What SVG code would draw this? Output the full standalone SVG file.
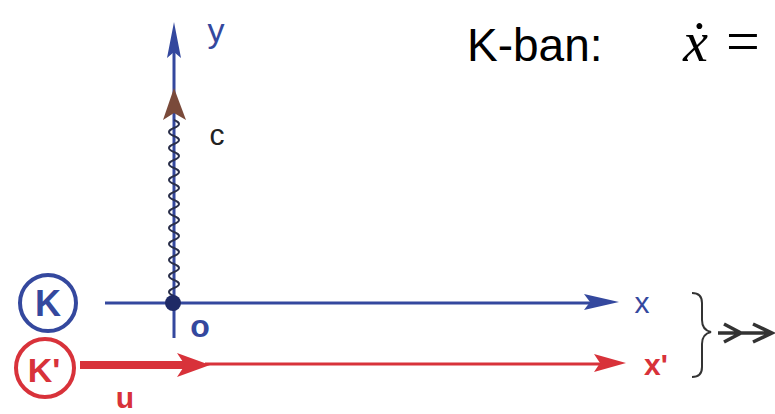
<svg xmlns="http://www.w3.org/2000/svg" width="775" height="414" viewBox="0 0 775 414">
<defs>
<style>
.blue{stroke:#34489e;fill:none}
.red{stroke:#d8323a;fill:none}
.hand{font-family:"Liberation Sans",Arial,sans-serif}
</style>
</defs>
<rect width="775" height="414" fill="#ffffff"/>
<g id="connectors">
  <!-- y axis -->
  <line class="blue" x1="174" y1="338" x2="174" y2="50" stroke-width="3"/>
  <polygon points="174,22 167,58 174,52 181,58" fill="#34489e"/>
  <!-- light ray -->
  <polygon points="174,88 163,120 174,113 186,120" fill="#7a4a3a"/>
  <path d="M174 120 q10 4 0 8 q-10 4 0 8 q10 4 0 8 q-10 4 0 8 q10 4 0 8 q-10 4 0 8 q10 4 0 8 q-10 4 0 8 q10 4 0 8 q-10 4 0 8 q10 4 0 8 q-10 4 0 8 q10 4 0 8 q-10 4 0 8 q10 4 0 8 q-10 4 0 8 q10 4 0 8 q-10 4 0 8 q10 4 0 8 q-10 4 0 8 q10 4 0 8 q-10 4 0 8" fill="none" stroke="#2a2f4a" stroke-width="2"/>
  <!-- x axis -->
  <line class="blue" x1="105" y1="303" x2="590" y2="303" stroke-width="3"/>
  <polygon points="619,302 584,294 590,302 584,310" fill="#34489e"/>
  <!-- x' axis -->
  <line class="red" x1="205" y1="364" x2="600" y2="364" stroke-width="3"/>
  <polygon points="626,363 594,354 600,363 594,372" fill="#d8323a"/>
  <!-- u arrow -->
  <line class="red" x1="80" y1="365" x2="195" y2="365" stroke-width="8"/>
  <polygon points="210,365 177,353 185,365 177,377" fill="#d8323a"/>
  <!-- brace -->
  <path d="M692 293 Q702 293 702 303 L702 320 Q702 330 711 332 Q702 334 702 344 L702 367 Q702 377 692 377" fill="none" stroke="#333" stroke-width="2"/>
  <!-- implies arrow -->
  <path d="M718 333 L770 333 M724 324 L741 333 L724 342 M753 324 L772 333 L753 342" fill="none" stroke="#333" stroke-width="3.5"/>
</g>
<g id="node-K">
  <circle cx="48" cy="303" r="28" class="blue" stroke-width="4"/>
  <text x="48" y="316" text-anchor="middle" class="hand" font-size="36" font-weight="bold" fill="#34489e">K</text>
</g>
<g id="node-Kprime">
  <circle cx="45" cy="368" r="29" class="red" stroke-width="4"/>
  <text x="44" y="382" text-anchor="middle" class="hand" font-size="34" font-weight="bold" fill="#d8323a">K'</text>
</g>
<g id="node-origin">
  <circle cx="173" cy="303" r="8" fill="#1f2a66"/>
  <text x="200" y="337" text-anchor="middle" class="hand" font-size="32" font-weight="bold" fill="#34489e">o</text>
</g>
<g id="labels">
  <text x="216" y="42" text-anchor="middle" class="hand" font-size="34" fill="#34489e">y</text>
  <text x="217" y="145" text-anchor="middle" class="hand" font-size="30" fill="#222">c</text>
  <text x="642" y="313" text-anchor="middle" class="hand" font-size="30" fill="#34489e">x</text>
  <text x="656" y="375" text-anchor="middle" class="hand" font-size="30" font-weight="bold" fill="#d8323a">x'</text>
  <text x="125" y="408" text-anchor="middle" class="hand" font-size="30" font-weight="bold" fill="#d8323a">u</text>
  <text x="467" y="61" font-family="'Liberation Sans',Arial,sans-serif" font-size="46" fill="#000">K-ban:</text>
  <text x="683" y="61" font-family="'Liberation Serif','Times New Roman',serif" font-style="italic" font-size="56" fill="#000">ẋ</text>
  <text x="726" y="61" font-family="'Liberation Serif','Times New Roman',serif" font-size="60" fill="#000">=</text>
</g>
</svg>
